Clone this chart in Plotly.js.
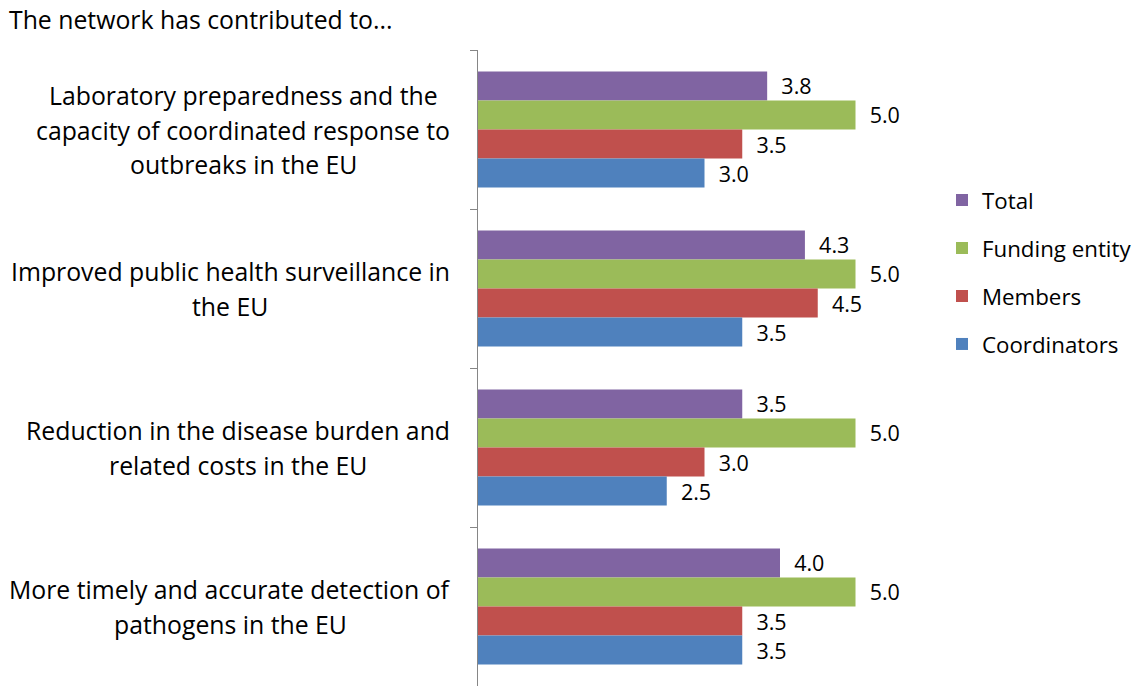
<!DOCTYPE html>
<html><head><meta charset="utf-8">
<script src="https://cdn.plot.ly/plotly-3.0.1.min.js"></script>
<style>html,body{margin:0;padding:0;background:#fff}#chart{width:1141px;height:686px}</style>
</head><body><div id="chart"></div>
<script>
const categories = [
  "Laboratory preparedness and the<br>capacity of coordinated response to<br>outbreaks in the EU",
  "Improved public health surveillance in<br>the EU",
  "Reduction in the disease burden and<br>related costs in the EU",
  "More timely and accurate detection of<br>pathogens in the EU"
];
const seriesNames = ["Total", "Funding entity", "Members", "Coordinators"];
const total = [3.83, 4.33, 3.5, 4.0];
const fundingEntity = [5.0, 5.0, 5.0, 5.0];
const members = [3.5, 4.5, 3.0, 3.5];
const coordinators = [3.0, 3.5, 2.5, 3.5];
const seriesValues = [total, fundingEntity, members, coordinators];
const colors = ["#8064A2", "#9BBB59", "#C0504D", "#4F81BD"];
const titleText = "The network has contributed to...";

const FONT = "'Open Sans', sans-serif";
const LABEL_SIZE = 24.8;
const VALUE_SIZE = 21.5;
const LEGEND_SIZE = 22.3;
const W = 1141, H = 686;
const margin = {l: 478, r: 210, t: 50, b: 0};
const plotW = W - margin.l - margin.r;

const traces = seriesNames.map((name, i) => ({
  type: 'bar',
  orientation: 'h',
  name: name,
  legendgroup: name,
  y: categories,
  x: seriesValues[i],
  text: seriesValues[i].map(v => '\u00A0\u00A0' + v.toFixed(1)),
  textposition: 'outside',
  textfont: {family: FONT, size: VALUE_SIZE, color: '#000'},
  constraintext: 'none',
  cliponaxis: false,
  marker: {color: colors[i], line: {width: 0}},
  hoverinfo: 'skip'
}));

// category labels: right-aligned block, lines centred within block
const canvas = document.createElement('canvas');
const ctx = canvas.getContext('2d');
ctx.font = LABEL_SIZE + "px 'Open Sans'";
const LINE_GAP = 34.5;
const RIGHT_EDGE = 450;
const annotations = [];
categories.forEach(cat => {
  const lines = cat.split('<br>');
  const maxW = Math.max(...lines.map(l => ctx.measureText(l).width));
  const cx = RIGHT_EDGE - maxW / 2;
  lines.forEach((line, j) => {
    annotations.push({
      text: line,
      xref: 'paper', x: (cx - margin.l) / plotW, xanchor: 'center',
      yref: 'y', y: cat, yanchor: 'middle',
      yshift: ((lines.length - 1) / 2 - j) * LINE_GAP,
      showarrow: false,
      font: {family: FONT, size: LABEL_SIZE, color: '#000'}
    });
  });
});

const layout = {
  width: W, height: H,
  margin: margin,
  paper_bgcolor: '#fff', plot_bgcolor: '#fff',
  font: {family: FONT, color: '#000'},
  title: {
    text: titleText,
    xref: 'container', x: 9 / W, xanchor: 'left',
    yref: 'container', y: 1 - 20 / H, yanchor: 'middle',
    font: {family: FONT, size: LABEL_SIZE, color: '#000'}
  },
  barmode: 'group',
  bargap: 0.27,
  bargroupgap: 0,
  xaxis: {range: [0, 6], visible: false, fixedrange: true},
  yaxis: {
    type: 'category', autorange: 'reversed',
    showline: true, linecolor: '#868686', linewidth: 1,
    ticks: 'outside', ticklen: 7, tickcolor: '#868686', tickwidth: 1,
    tickson: 'boundaries', showticklabels: false,
    showgrid: false, zeroline: false, fixedrange: true
  },
  showlegend: true,
  legend: {
    xref: 'container', x: 942 / W, xanchor: 'left',
    yref: 'container', y: 1 - 179 / H, yanchor: 'top',
    font: {family: FONT, size: LEGEND_SIZE, color: '#000'},
    tracegroupgap: 16,
    bgcolor: 'rgba(0,0,0,0)'
  },
  annotations: annotations
};

Plotly.newPlot('chart', traces, layout, {displayModeBar: false, staticPlot: true});
</script>
</body></html>
